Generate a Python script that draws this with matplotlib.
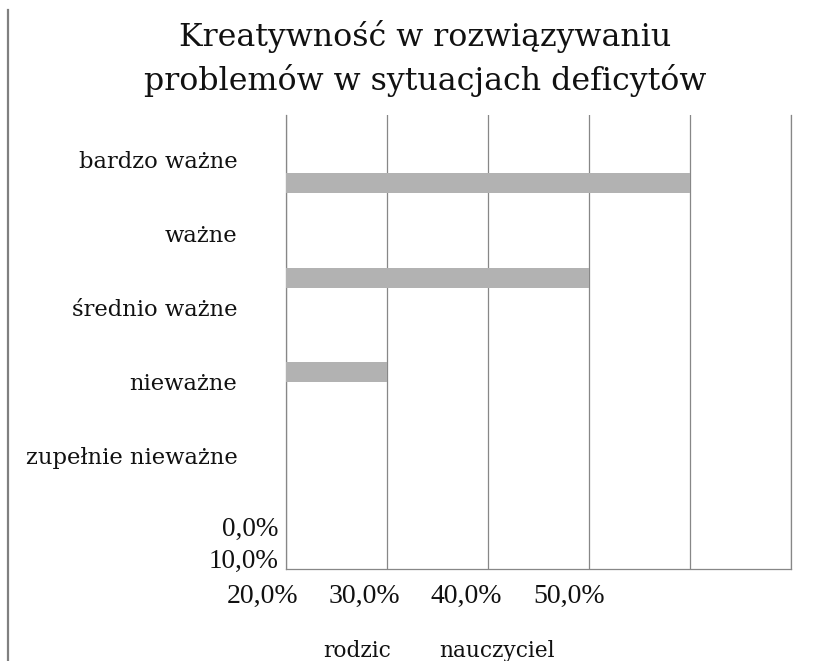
import matplotlib.pyplot as plt
from matplotlib.lines import Line2D

# chart data
title_lines = ["Kreatywność w rozwiązywaniu", "problemów w sytuacjach deficytów"]
categories = ["bardzo ważne", "ważne", "średnio ważne", "nieważne", "zupełnie nieważne"]
bar_values = [40, 30, 10]  # percent, the three grey bars from top to bottom
x_ticks = [0, 10, 20, 30, 40, 50]
tick_labels = ["0,0%", "10,0%", "20,0%", "30,0%", "40,0%", "50,0%"]
series = ["rodzic", "nauczyciel"]

grid_color = "#878787"
bar_color = "#b2b2b2"
text_color = "#111111"

fig = plt.figure(figsize=(8.3, 6.61), dpi=100)
W, H = 830, 661
ax = fig.add_axes([286 / W, 1 - 569 / H, (791 - 286) / W, (569 - 115) / H])

ax.barh(range(len(bar_values)), bar_values, height=0.21, color=bar_color, zorder=3)

ax.set_xlim(x_ticks[0], x_ticks[-1])
ax.set_ylim(4.08, -0.72)
ax.set_xticks(x_ticks)
ax.set_xticklabels([])
ax.xaxis.grid(True, color=grid_color, linewidth=0.9)
ax.set_axisbelow(True)
ax.tick_params(axis="x", length=0)

# category labels (drawn at their own spacing, as in the original)
ax.set_yticks([-0.245 + 0.782 * i for i in range(len(categories))])
ax.set_yticklabels(categories, fontfamily="DejaVu Serif", fontsize=16.3, color=text_color)
ax.tick_params(axis="y", length=0, pad=35)

ax.spines["top"].set_visible(False)
for side in ["left", "right", "bottom"]:
    ax.spines[side].set_color(grid_color)
    ax.spines[side].set_linewidth(0.9)

for line, base in zip(title_lines, [46, 90]):
    fig.text(425 / W, 1 - base / H, line, ha="center", va="baseline",
             fontfamily="DejaVu Serif", fontsize=22.8, color=text_color)

# percent labels, wrapped around the plot like in the source image
for lab, base in zip(tick_labels[:2], [536, 568]):
    fig.text(278 / W, 1 - base / H, lab, ha="right", va="baseline",
             fontfamily="Liberation Serif", fontsize=19.5, color=text_color)
for lab, xc in zip(tick_labels[2:], [263, 364.5, 466, 569]):
    fig.text(xc / W, 1 - 603 / H, lab, ha="center", va="baseline",
             fontfamily="Liberation Serif", fontsize=20, color=text_color)

for name, x0 in zip(series, [323, 439]):
    fig.text(x0 / W, 1 - 657 / H, name, ha="left", va="baseline",
             fontfamily="DejaVu Serif", fontsize=15.6, color=text_color)

fig.add_artist(Line2D([8 / W, 8 / W], [0, 1 - 10 / H], color="#808080", linewidth=1.6))

fig.savefig("out.png", dpi=100)
